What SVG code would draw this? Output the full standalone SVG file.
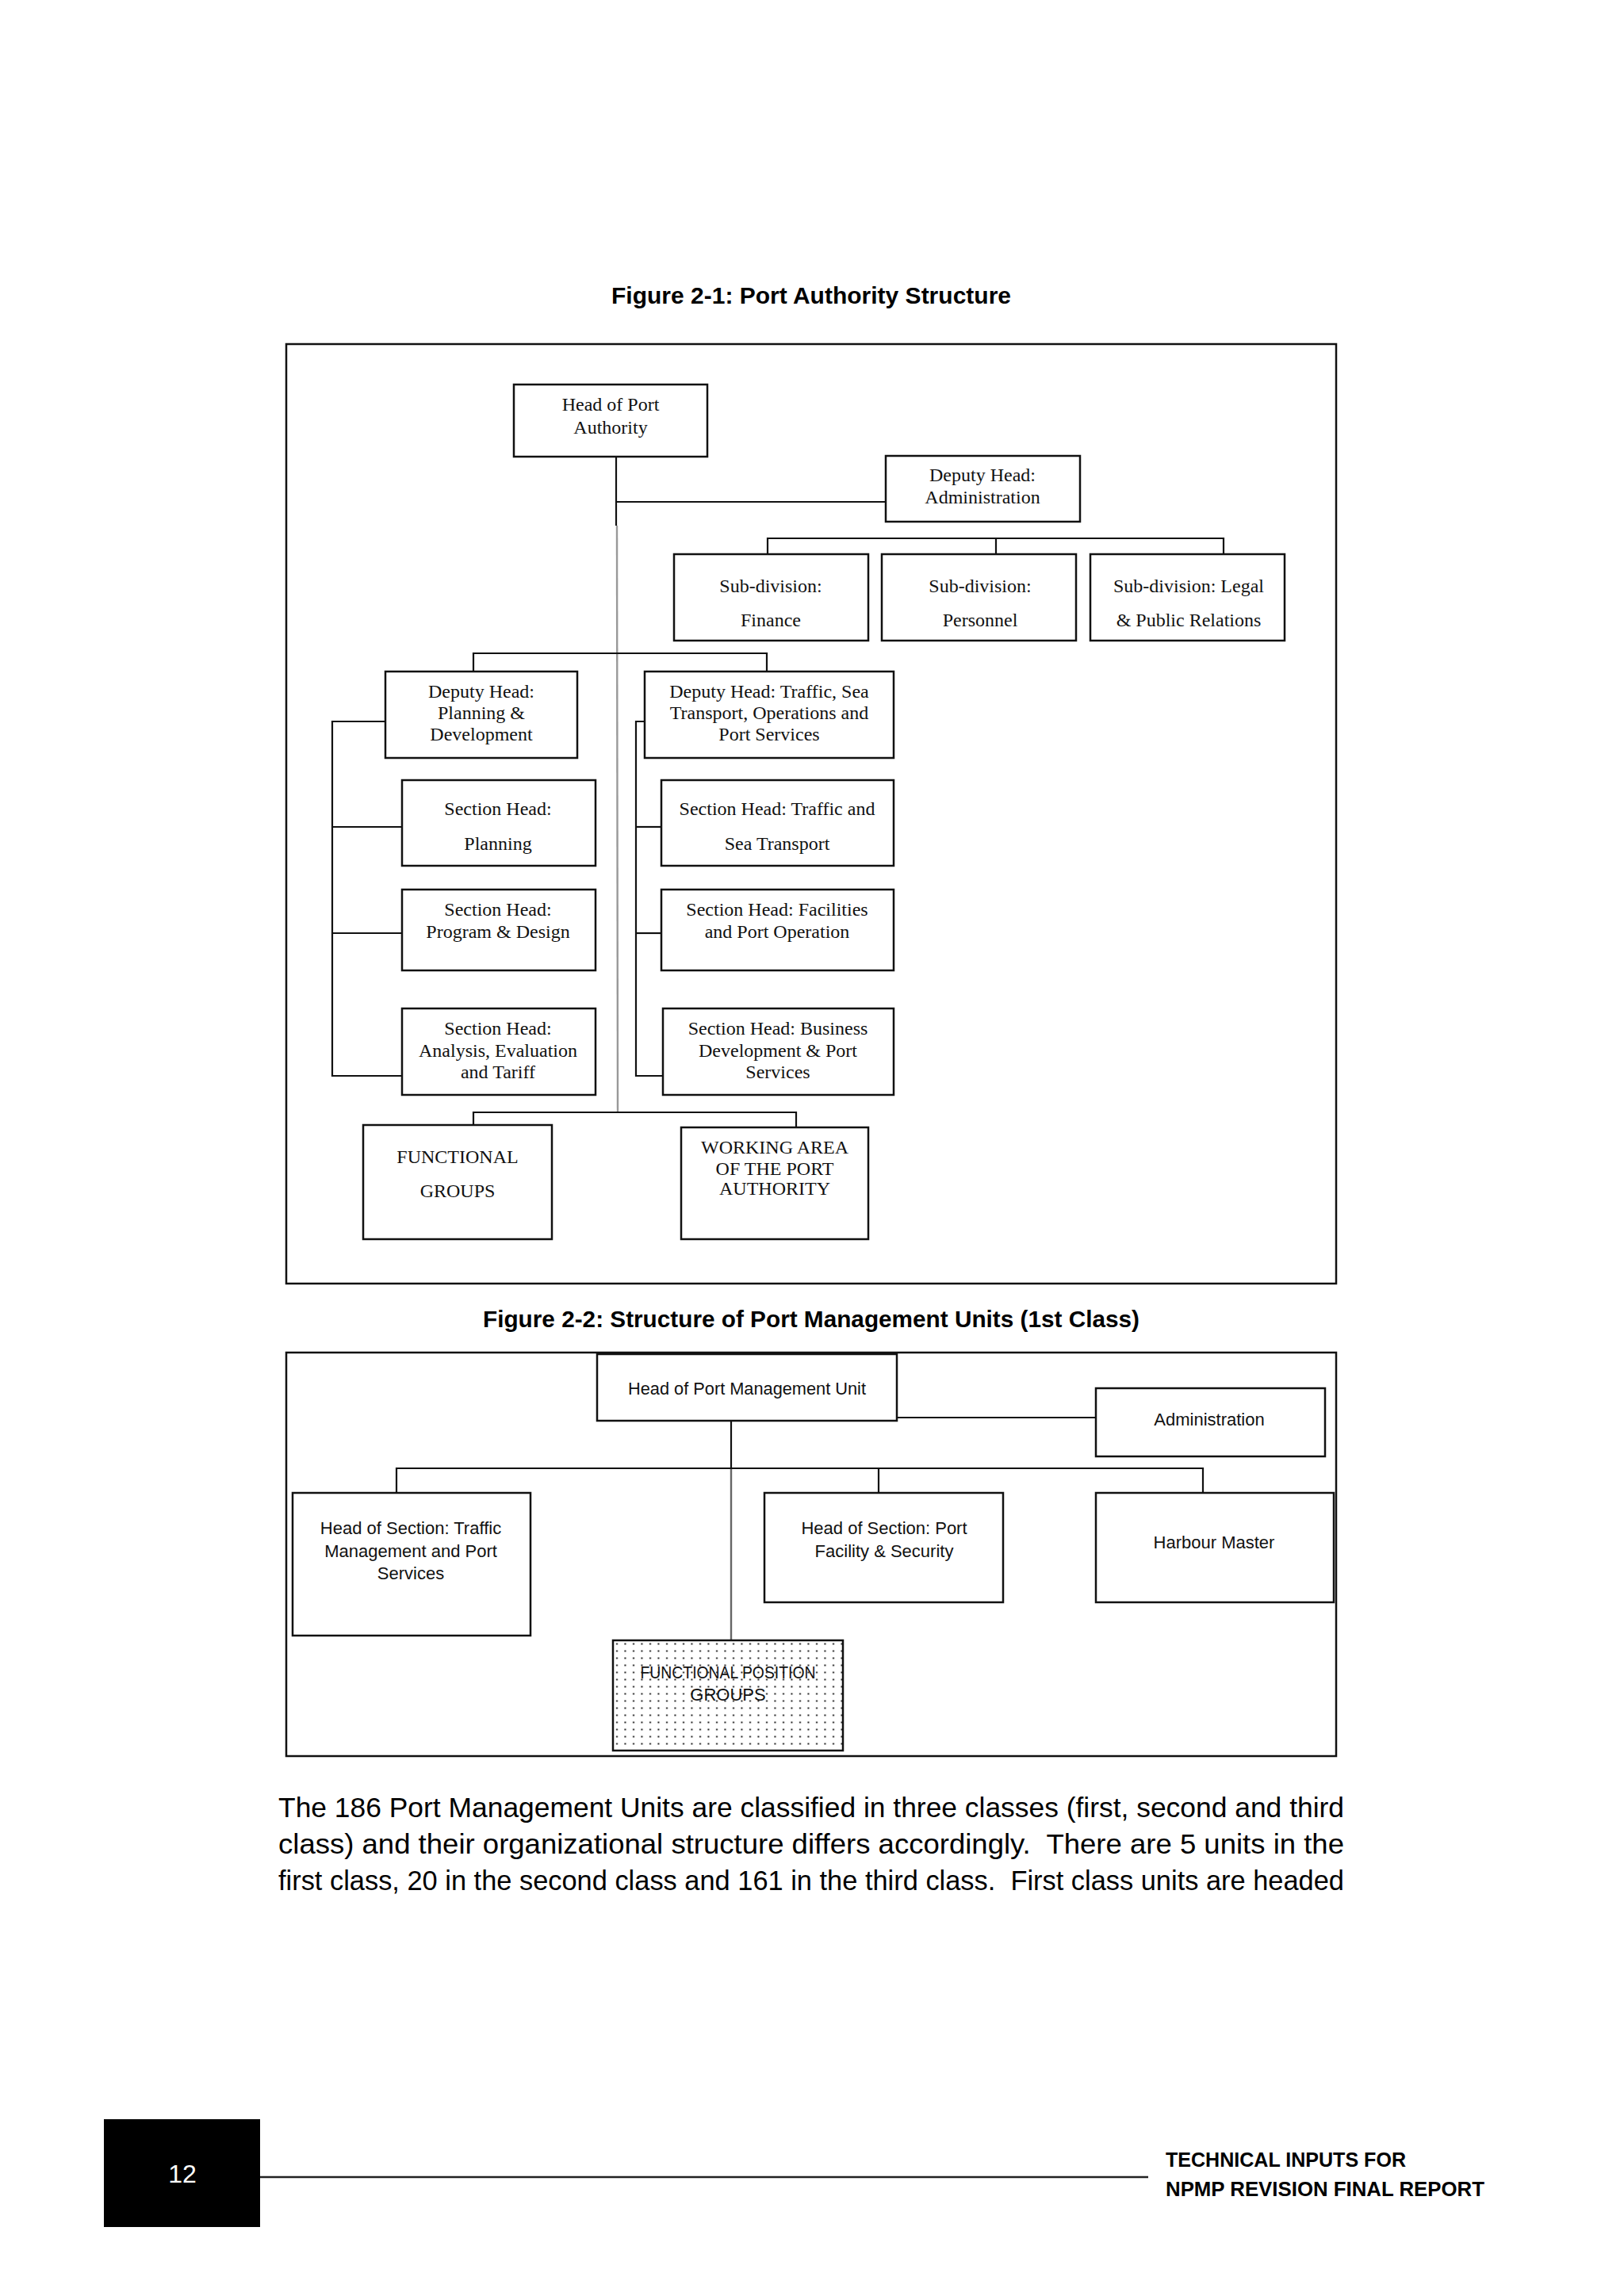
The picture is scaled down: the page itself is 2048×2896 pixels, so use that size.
<svg xmlns="http://www.w3.org/2000/svg" width="2048" height="2896" viewBox="0 0 2048 2896">
<defs>
<style>
.frame{fill:none;stroke:#111;stroke-width:2.5}
.box{fill:#fff;stroke:#111;stroke-width:2.5}
.ln{fill:none;stroke:#111;stroke-width:2.2}
.gl{fill:none;stroke:#999;stroke-width:2.4}
.serif{font-family:"Liberation Serif","DejaVu Serif",serif;font-size:24px;fill:#111;text-anchor:middle}
.sans{font-family:"Liberation Sans","DejaVu Sans",sans-serif;font-size:22px;fill:#111;text-anchor:middle}
.title{font-family:"Liberation Sans","DejaVu Sans",sans-serif;font-weight:bold;font-size:29px;fill:#000}
.para{font-family:"Liberation Sans","DejaVu Sans",sans-serif;font-size:35px;fill:#000}
.foot{font-family:"Liberation Sans","DejaVu Sans",sans-serif;font-weight:bold;font-size:25px;fill:#000}
</style>
<pattern id="dots" x="773" y="2069" width="10.5" height="9" patternUnits="userSpaceOnUse">
<rect x="4" y="3.5" width="2" height="2" fill="#222"/>
</pattern>
</defs>
<rect width="2048" height="2896" fill="#fff"/>

<!-- Figure 2-1 -->
<text class="title" x="771" y="383" textLength="504" lengthAdjust="spacingAndGlyphs">Figure 2-1: Port Authority Structure</text>
<rect class="frame" x="361" y="434" width="1324" height="1185"/>

<g id="connectors1">
<line class="ln" x1="777" y1="576" x2="777" y2="663"/>
<line class="gl" x1="778" y1="663" x2="779" y2="1403"/>
<line class="ln" x1="777" y1="633" x2="1117" y2="633"/>
<polyline class="ln" points="968,699 968,679 1543,679 1543,699"/>
<line class="ln" x1="1256" y1="679" x2="1256" y2="699"/>
<polyline class="ln" points="597,847 597,824 967,824 967,847"/>
<polyline class="ln" points="486,910 419,910 419,1357 507,1357"/>
<line class="ln" x1="419" y1="1043" x2="507" y2="1043"/>
<line class="ln" x1="419" y1="1177" x2="507" y2="1177"/>
<polyline class="ln" points="813,910 802,910 802,1357 836,1357"/>
<line class="ln" x1="802" y1="1043" x2="834" y2="1043"/>
<line class="ln" x1="802" y1="1177" x2="834" y2="1177"/>
<polyline class="ln" points="597,1419 597,1403 1004,1403 1004,1422"/>
</g>

<g id="head-pa">
<rect class="box" x="648" y="485" width="244" height="91"/>
<text class="serif" x="770" y="518">Head of Port</text>
<text class="serif" x="770" y="547">Authority</text>
</g>
<g id="deputy-admin">
<rect class="box" x="1117" y="575" width="245" height="83"/>
<text class="serif" x="1239" y="607">Deputy Head:</text>
<text class="serif" x="1239" y="635">Administration</text>
</g>
<g id="sub-finance">
<rect class="box" x="850" y="699" width="245" height="109"/>
<text class="serif" x="972" y="747">Sub-division:</text>
<text class="serif" x="972" y="790">Finance</text>
</g>
<g id="sub-personnel">
<rect class="box" x="1112" y="699" width="245" height="109"/>
<text class="serif" x="1236" y="747">Sub-division:</text>
<text class="serif" x="1236" y="790">Personnel</text>
</g>
<g id="sub-legal">
<rect class="box" x="1375" y="699" width="245" height="109"/>
<text class="serif" x="1499" y="747">Sub-division: Legal</text>
<text class="serif" x="1499" y="790">&amp; Public Relations</text>
</g>
<g id="deputy-planning">
<rect class="box" x="486" y="847" width="242" height="109"/>
<text class="serif" x="607" y="880">Deputy Head:</text>
<text class="serif" x="607" y="907">Planning &amp;</text>
<text class="serif" x="607" y="934">Development</text>
</g>
<g id="deputy-traffic">
<rect class="box" x="813" y="847" width="314" height="109"/>
<text class="serif" x="970" y="880">Deputy Head: Traffic, Sea</text>
<text class="serif" x="970" y="907">Transport, Operations and</text>
<text class="serif" x="970" y="934">Port Services</text>
</g>
<g id="sec-planning">
<rect class="box" x="507" y="984" width="244" height="108"/>
<text class="serif" x="628" y="1028">Section Head:</text>
<text class="serif" x="628" y="1072">Planning</text>
</g>
<g id="sec-program">
<rect class="box" x="507" y="1122" width="244" height="102"/>
<text class="serif" x="628" y="1155">Section Head:</text>
<text class="serif" x="628" y="1183">Program &amp; Design</text>
</g>
<g id="sec-analysis">
<rect class="box" x="507" y="1272" width="244" height="109"/>
<text class="serif" x="628" y="1305">Section Head:</text>
<text class="serif" x="628" y="1333">Analysis, Evaluation</text>
<text class="serif" x="628" y="1360">and Tariff</text>
</g>
<g id="sec-traffic">
<rect class="box" x="834" y="984" width="293" height="108"/>
<text class="serif" x="980" y="1028">Section Head: Traffic and</text>
<text class="serif" x="980" y="1072">Sea Transport</text>
</g>
<g id="sec-facilities">
<rect class="box" x="834" y="1122" width="293" height="102"/>
<text class="serif" x="980" y="1155">Section Head: Facilities</text>
<text class="serif" x="980" y="1183">and Port Operation</text>
</g>
<g id="sec-business">
<rect class="box" x="836" y="1272" width="291" height="109"/>
<text class="serif" x="981" y="1305">Section Head: Business</text>
<text class="serif" x="981" y="1333">Development &amp; Port</text>
<text class="serif" x="981" y="1360">Services</text>
</g>
<g id="functional-groups">
<rect class="box" x="458" y="1419" width="238" height="144"/>
<text class="serif" x="577" y="1467">FUNCTIONAL</text>
<text class="serif" x="577" y="1510">GROUPS</text>
</g>
<g id="working-area">
<rect class="box" x="859" y="1422" width="236" height="141"/>
<text class="serif" x="977" y="1455">WORKING AREA</text>
<text class="serif" x="977" y="1482">OF THE PORT</text>
<text class="serif" x="977" y="1507">AUTHORITY</text>
</g>

<!-- Figure 2-2 -->
<text class="title" x="609" y="1674" textLength="828" lengthAdjust="spacingAndGlyphs">Figure 2-2: Structure of Port Management Units (1st Class)</text>
<rect class="frame" x="361" y="1706" width="1324" height="509"/>

<g id="connectors2">
<line class="ln" x1="922" y1="1792" x2="922" y2="1852"/>
<line class="gl" x1="922" y1="1852" x2="922" y2="2069" style="stroke:#666"/>
<line class="ln" x1="1131" y1="1788" x2="1382" y2="1788"/>
<polyline class="ln" points="500,1883 500,1852 1517,1852 1517,1883"/>
<line class="ln" x1="1108" y1="1852" x2="1108" y2="1883"/>
</g>

<g id="head-pmu">
<rect class="box" x="753" y="1708" width="378" height="84"/>
<text class="sans" x="942" y="1759" textLength="300" lengthAdjust="spacingAndGlyphs">Head of Port Management Unit</text>
</g>
<g id="administration">
<rect class="box" x="1382" y="1751" width="289" height="86"/>
<text class="sans" x="1525" y="1798">Administration</text>
</g>
<g id="sec-traffic-mgmt">
<rect class="box" x="369" y="1883" width="300" height="180"/>
<text class="sans" x="518" y="1935">Head of Section: Traffic</text>
<text class="sans" x="518" y="1964">Management and Port</text>
<text class="sans" x="518" y="1992">Services</text>
</g>
<g id="sec-port-facility">
<rect class="box" x="964" y="1883" width="301" height="138"/>
<text class="sans" x="1115" y="1935">Head of Section: Port</text>
<text class="sans" x="1115" y="1964">Facility &amp; Security</text>
</g>
<g id="harbour-master">
<rect class="box" x="1382" y="1883" width="300" height="138"/>
<text class="sans" x="1531" y="1953">Harbour Master</text>
</g>
<g id="functional-position-groups">
<rect x="773" y="2069" width="290" height="139" fill="url(#dots)" stroke="#111" stroke-width="2.5"/>
<text class="sans" x="918" y="2117" textLength="221" lengthAdjust="spacingAndGlyphs">FUNCTIONAL POSITION</text>
<text class="sans" x="918" y="2145">GROUPS</text>
</g>

<!-- Paragraph -->
<text class="para" xml:space="preserve" x="351" y="2292" textLength="1344" lengthAdjust="spacingAndGlyphs">The 186 Port Management Units are classified in three classes (first, second and third</text>
<text class="para" xml:space="preserve" x="351" y="2338" textLength="1344" lengthAdjust="spacingAndGlyphs">class) and their organizational structure differs accordingly.  There are 5 units in the</text>
<text class="para" xml:space="preserve" x="351" y="2384" textLength="1344" lengthAdjust="spacingAndGlyphs">first class, 20 in the second class and 161 in the third class.  First class units are headed</text>

<!-- Footer -->
<rect x="131" y="2673" width="197" height="136" fill="#000"/>
<text x="230" y="2753" font-family="Liberation Sans, DejaVu Sans, sans-serif" font-size="32" fill="#fff" text-anchor="middle">12</text>
<line x1="328" y1="2746" x2="1448" y2="2746" stroke="#222" stroke-width="2.5"/>
<text class="foot" x="1470" y="2733" textLength="303" lengthAdjust="spacingAndGlyphs">TECHNICAL INPUTS FOR</text>
<text class="foot" x="1470" y="2770" textLength="402" lengthAdjust="spacingAndGlyphs">NPMP REVISION FINAL REPORT</text>
</svg>
